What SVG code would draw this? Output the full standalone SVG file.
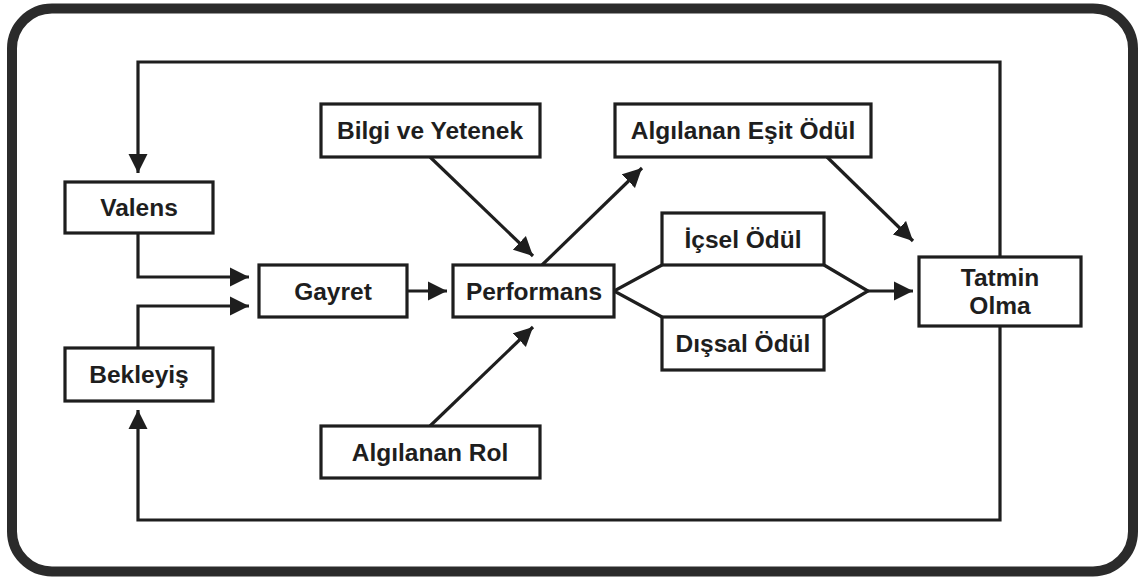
<svg xmlns="http://www.w3.org/2000/svg" width="1140" height="578" viewBox="0 0 1140 578">
<style>
.box{fill:#fff;stroke:#1e1e1e;stroke-width:3.2}
.lbl{font-family:"Liberation Sans",Arial,sans-serif;font-weight:bold;font-size:24.5px;fill:#1e1e1e;text-anchor:middle}
.ln{fill:none;stroke:#1e1e1e;stroke-width:3.2;stroke-linejoin:miter}
.ar{marker-end:url(#ah)}
</style>
<defs>
<marker id="ah" markerUnits="userSpaceOnUse" markerWidth="20" markerHeight="20" refX="19" refY="9.5" orient="auto" viewBox="0 0 20 19">
<path d="M0,0 L19,9.5 L0,19 z" fill="#1e1e1e"/>
</marker>
</defs>
<rect x="0" y="0" width="1140" height="578" fill="#fff"/>
<rect id="frame" x="12" y="8.5" width="1121" height="563" rx="40" ry="40" fill="#fff" stroke="#2b2b2b" stroke-width="10"/>
<g id="connectors">
<polyline class="ln ar" points="1000,257 1000,62 138,62 138,173"/>
<polyline class="ln ar" points="1000,326 1000,520 138,520 138,410"/>
<polyline class="ln ar" points="138,233 138,277 249,277"/>
<polyline class="ln ar" points="138,348 138,306 249,306"/>
<line class="ln ar" x1="407" y1="291" x2="447" y2="291"/>
<line class="ln ar" x1="430" y1="157" x2="533" y2="256"/>
<line class="ln ar" x1="430" y1="426" x2="533" y2="327"/>
<line class="ln ar" x1="542" y1="265" x2="642" y2="168"/>
<line class="ln ar" x1="827" y1="157" x2="913" y2="241"/>
<polyline class="ln" points="662,265 614,291 662,317"/>
<polyline class="ln" points="824,265 868,291 824,317"/>
<line class="ln ar" x1="868" y1="291" x2="913" y2="291"/>
</g>
<g id="valens"><rect class="box" x="65" y="182" width="148" height="51"/><text class="lbl" x="139" y="216">Valens</text></g>
<g id="bekleyis"><rect class="box" x="65" y="348" width="148" height="53"/><text class="lbl" x="139" y="383">Bekleyiş</text></g>
<g id="gayret"><rect class="box" x="259" y="265" width="148" height="52"/><text class="lbl" x="333" y="300">Gayret</text></g>
<g id="performans"><rect class="box" x="453" y="265" width="161" height="52"/><text class="lbl" x="534" y="300">Performans</text></g>
<g id="bilgi"><rect class="box" x="321" y="104" width="219" height="53"/><text class="lbl" x="430" y="139">Bilgi ve Yetenek</text></g>
<g id="rol"><rect class="box" x="321" y="426" width="219" height="52"/><text class="lbl" x="430" y="461">Algılanan Rol</text></g>
<g id="esit"><rect class="box" x="615" y="104" width="256" height="53"/><text class="lbl" x="743" y="139">Algılanan Eşit Ödül</text></g>
<g id="icsel"><rect class="box" x="662" y="213" width="162" height="52"/><text class="lbl" x="743" y="248">İçsel Ödül</text></g>
<g id="dissal"><rect class="box" x="662" y="317" width="162" height="53"/><text class="lbl" x="743" y="352">Dışsal Ödül</text></g>
<g id="tatmin"><rect class="box" x="919" y="257" width="162" height="69"/><text class="lbl" x="1000" y="286">Tatmin</text><text class="lbl" x="1000" y="314">Olma</text></g>
</svg>
